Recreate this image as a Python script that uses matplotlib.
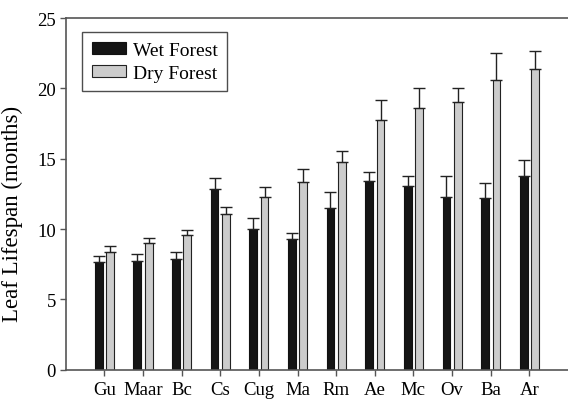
import numpy as np
import matplotlib.pyplot as plt

# ----------- Data -----------
species = ["Gu", "Maar", "Bc", "Cs", "Cug", "Ma", "Rm", "Ae", "Mc", "Ov", "Ba", "Ar"]
wet_mean = [7.63, 7.75, 7.89, 12.84, 9.98, 9.31, 11.49, 13.41, 13.08, 12.27, 12.22, 13.75]
wet_err = [0.45, 0.49, 0.50, 0.81, 0.82, 0.38, 1.14, 0.66, 0.67, 1.48, 1.07, 1.18]
dry_mean = [8.34, 8.98, 9.55, 11.04, 12.30, 13.36, 14.76, 17.73, 18.58, 19.00, 20.59, 21.39]
dry_err = [0.47, 0.36, 0.36, 0.52, 0.66, 0.90, 0.81, 1.46, 1.44, 1.04, 1.90, 1.28]

# ----------- Plot -----------
plt.rcParams['font.family'] = ['Liberation Serif', 'DejaVu Serif']
fig = plt.figure(figsize=(5.68, 4.02), dpi=100)
ax = fig.add_axes([0.1157, 0.0779, 0.8843, 0.8748])

x = np.arange(len(species))
w = 0.2
off = 0.148
err_kw = dict(ecolor="#222222", elinewidth=1.0, capsize=4.5, capthick=1.0)
ax.bar(x - off, wet_mean, w, color="#151515", edgecolor="#111111", linewidth=0.8,
       yerr=[np.zeros(len(x)), wet_err], error_kw=err_kw, label="Wet Forest")
ax.bar(x + off, dry_mean, w, color="#cccccc", edgecolor="#222222", linewidth=0.8,
       yerr=[np.zeros(len(x)), dry_err], error_kw=err_kw, label="Dry Forest")

ax.set_xlim(-1, 12)
ax.set_ylim(0, 25)
ax.set_xticks(x)
ax.set_xticklabels(species)
ax.set_yticks([0, 5, 10, 15, 20, 25])
ax.tick_params(direction="out", length=4, width=1, color="#555555", labelsize=13.5, pad=3)
ax.tick_params(axis="x", pad=4)
ax.set_ylabel("Leaf Lifespan (months)", fontsize=16.5)
ax.yaxis.set_label_coords(-0.085, 0.446)

for s in ["left", "bottom", "top"]:
    ax.spines[s].set_color("#555555")
    ax.spines[s].set_linewidth(1.2)
ax.spines["right"].set_visible(False)

leg = ax.legend(loc="upper left", bbox_to_anchor=(0.032, 0.96), borderaxespad=0,
                fontsize=14, frameon=True, fancybox=False, edgecolor="#222222",
                handlelength=1.75, handleheight=0.57, borderpad=0.5,
                labelspacing=0.3, handletextpad=0.36)
leg.get_frame().set_linewidth(1.0)

plt.savefig("out.png", dpi=100)
